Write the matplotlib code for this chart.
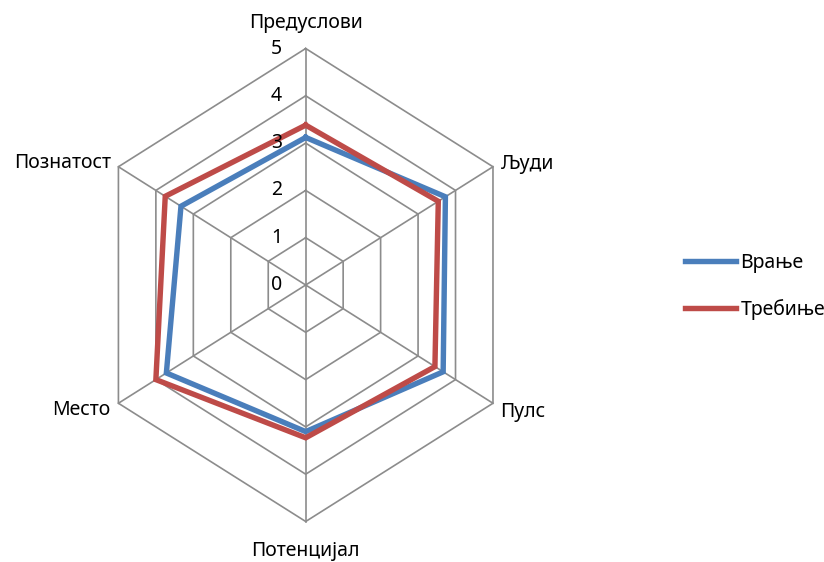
import numpy as np
import matplotlib
matplotlib.use("Agg")
import matplotlib.pyplot as plt

plt.rcParams['font.family'] = ['Noto Sans', 'DejaVu Sans']

categories = ['Предуслови', 'Људи', 'Пулс', 'Потенцијал', 'Место', 'Познатост']
vranje = [3.12, 3.73, 3.67, 3.1, 3.72, 3.33]
trebinje = [3.38, 3.54, 3.45, 3.23, 4.0, 3.75]
series_names = ['Врање', 'Требиње']
ticks = [0, 1, 2, 3, 4, 5]

blue = '#4A7EBB'
red = '#BE4B48'
grid_c = '#8C8C8C'
fs = 14

n = len(categories)
ang = np.arange(n) * 2 * np.pi / n


def xy(vals):
    v = np.asarray(vals, dtype=float)
    x = v * np.sin(ang)
    y = v * np.cos(ang)
    return np.append(x, x[0]), np.append(y, y[0])


fig = plt.figure(figsize=(8.24, 5.62), dpi=100)
ax = fig.add_axes([0, 0, 1, 1])
# pixel scale: horizontal 43.25 px/unit, vertical 47.3 px/unit, centre at (305.7, 285)
ax.set_xlim(-305.7 / 43.25, (824 - 305.7) / 43.25)
ax.set_ylim(-(562 - 285) / 47.3, 285 / 47.3)
ax.axis('off')

# grid hexagons
for t in ticks[1:]:
    gx, gy = xy([t] * n)
    ax.plot(gx, gy, color=grid_c, lw=1.2, zorder=1)
# spokes
for a in ang:
    ax.plot([0, 5 * np.sin(a)], [0, 5 * np.cos(a)], color=grid_c, lw=1.2, zorder=1)

# series
bx, by = xy(vranje)
rx, ry = xy(trebinje)
ax.plot(bx, by, color=blue, lw=3.9, solid_joinstyle='miter', label=series_names[0], zorder=3)
ax.plot(rx, ry, color=red, lw=3.9, solid_joinstyle='miter', label=series_names[1], zorder=3)

# tick labels
for t in ticks:
    ax.annotate(str(t), (0, t), xytext=(-17, 0), textcoords='offset points',
                ha='right', va='center', fontsize=fs)

# category labels
offsets = [(0, 11, 'center', 'bottom'), (6, 2, 'left', 'center'), (5, -6, 'left', 'center'),
           (0, -14, 'center', 'top'), (-6, -5, 'right', 'center'), (-5, 3, 'right', 'center')]
for c, a, (dx, dy, ha, va) in zip(categories, ang, offsets):
    ax.annotate(c, (5 * np.sin(a), 5 * np.cos(a)), xytext=(dx, dy), textcoords='offset points',
                ha=ha, va=va, fontsize=fs)

leg = ax.legend(loc='center left', bbox_to_anchor=(685 / 824, 0.49), frameon=False,
                fontsize=fs, handlelength=2.6, handletextpad=0.25, labelspacing=1.35,
                borderpad=0, borderaxespad=0)

fig.savefig('out.png', dpi=100)
